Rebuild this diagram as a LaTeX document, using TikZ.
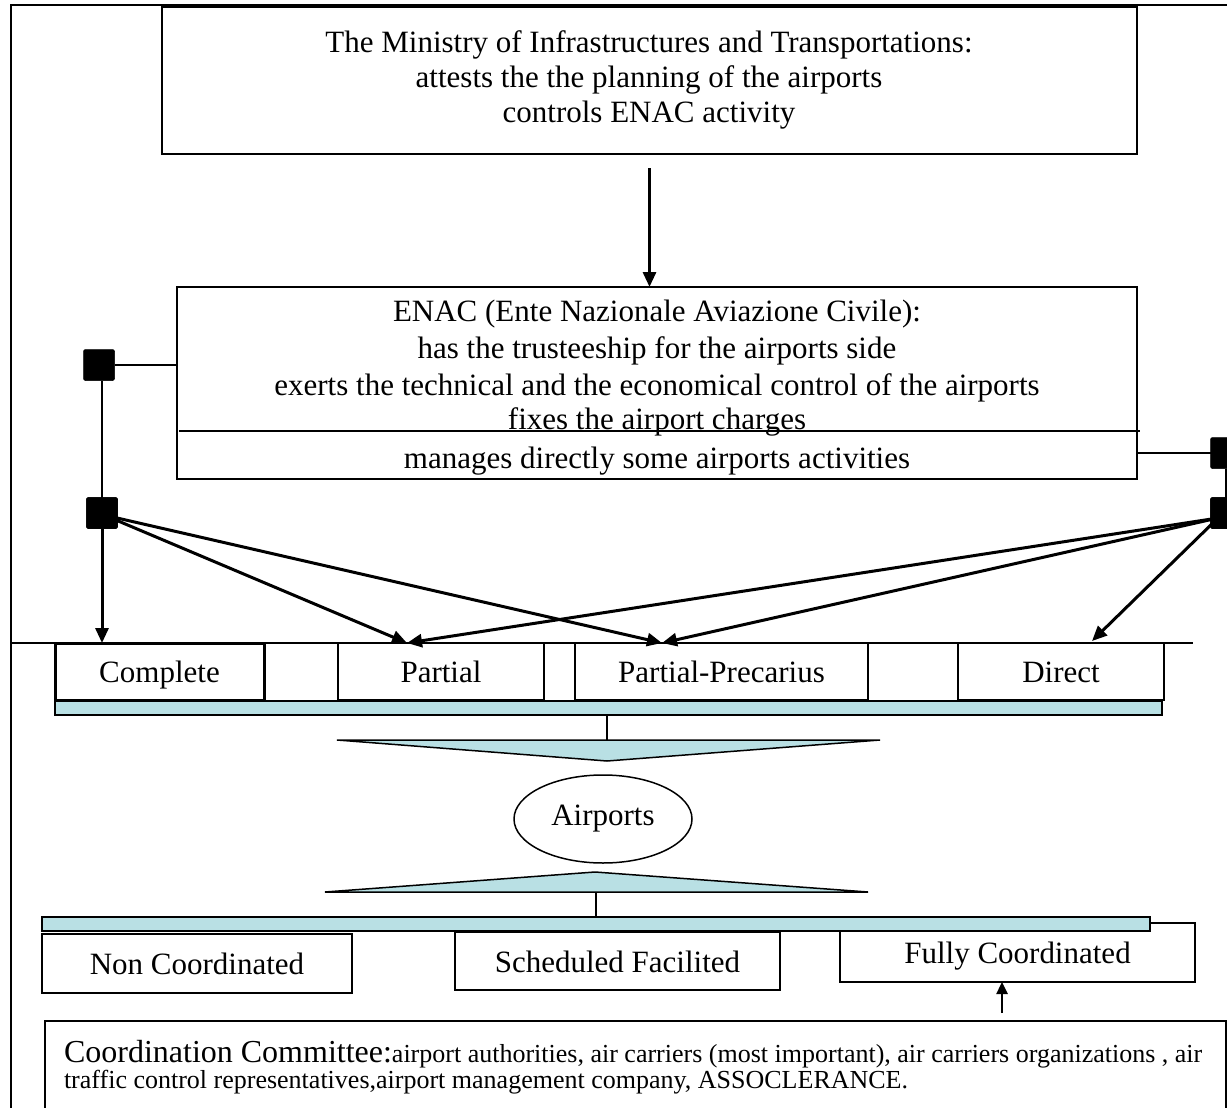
\documentclass[tikz,border=0pt]{standalone}
\usepackage{fontspec}
\setmainfont{Liberation Serif}
\usetikzlibrary{arrows.meta,shapes.geometric}
\definecolor{barfill}{RGB}{185,224,228}
\begin{document}
\begin{tikzpicture}[x=1pt,y=-1pt,
  every node/.style={inner sep=0pt,outer sep=0pt},
  box/.style={draw,line width=1.8pt,rectangle},
  txt/.style={font=\fontsize{31}{36}\selectfont,anchor=base},
  sq/.style={fill=black,draw=black,line width=0.5pt,minimum size=31pt,rounded corners=2pt},
  arr/.style={line width=3pt,-{Triangle[length=15pt,width=13pt]}},
  conn/.style={line width=1.8pt},
  bar/.style={draw,fill=barfill,line width=1.5pt},
  framel/.style={line width=2pt}
]
\useasboundingbox (0,0) rectangle (1227,1108);
\clip (0,0) rectangle (1227,1108);
% frame
\coordinate (fTL) at (11,5);
\coordinate (fTR) at (1230,5);
\coordinate (fBL) at (11,1110);
\coordinate (hL) at (11,643);
\coordinate (hR) at (1193,643);
\draw[framel] (fTR) -- (fTL) -- (fBL);
\draw[framel] (hL) -- (hR);

% top box
\node[box,minimum width=975pt,minimum height=147pt] (min) at (649.5,80.5) {};
\node[txt] (m1) at (649,53) {The Ministry of Infrastructures and Transportations:};
\node[txt] (m2) at (649,88) {attests the the planning of the airports};
\node[txt] (m3) at (649,122) {controls ENAC activity};

% ENAC box
\node[box,minimum width=960pt,minimum height=192pt] (enac) at (657,383) {};
\coordinate (sepL) at (179,431);
\coordinate (sepR) at (1140,431);
\node[txt] (e1) at (657,321) {ENAC (Ente Nazionale Aviazione Civile):};
\node[txt] (e2) at (657,358) {has the trusteeship for the airports side};
\node[txt] (e3) at (657,395) {exerts the technical and the economical control of the airports};
\node[txt] (e4) at (657,429) {fixes the airport charges};
\node[txt] (e5) at (657,468) {manages directly some airports activities};
\draw[conn] (sepL) -- (sepR);

\draw[arr] ([yshift=-14pt]min.south) -- (min.south |- enac.north);

% boxes row
\node[box,line width=3pt,minimum width=209pt,minimum height=57pt] (complete) at (159.5,671.5) {};
\node[box,minimum width=206pt,minimum height=57pt] (partial) at (441,671.5) {};
\node[box,minimum width=293pt,minimum height=57pt] (pp) at (721.5,671.5) {};
\node[box,minimum width=206pt,minimum height=57pt] (direct) at (1061,671.5) {};
\node[txt] (tcomplete) at (159.5,682) {Complete};
\node[txt] (tpartial) at (441,682) {Partial};
\node[txt] (tpp) at (721.5,682) {Partial-Precarius};
\node[txt] (tdirect) at (1061,682) {Direct};

% arrows
\coordinate (pIn) at (407,643);
\coordinate (ppIn) at (662,643);
\coordinate (dIn) at (1092,641);
\coordinate (lStart) at (104,515);
\coordinate (rStart) at (1218,518);

% squares
\node[sq] (sqL1) at (99,365) {};
\node[sq] (sqL2) at (102,513) {};
\node[sq] (sqR1) at (1226,453) {};
\node[sq] (sqR2) at (1226,513) {};
\draw[conn] (sqL1.east) -- (sqL1.east -| enac.west);
\draw[conn] (sqL1.south -| sqL2.north) -- (sqL2.north);
\draw[conn] (enac.east |- sqR1.west) -- (sqR1.west);
\draw[conn] (sqR1.south) -- (sqR2.north);

\draw[arr] (sqL2.south) -- (sqL2.south |- complete.north);
\draw[arr] (lStart) -- (pIn);
\draw[arr] (lStart) -- (ppIn);
\draw[arr] (rStart) -- (pIn);
\draw[arr] (rStart) -- (ppIn);
\draw[arr] (rStart) -- (dIn);
\node[sq] at (sqL2) {};
\node[sq] at (sqR2) {};

% bar 1 and triangle
\node[bar,minimum width=1107pt,minimum height=14pt] (bar1) at (608.5,708) {};
\coordinate (t1top) at (607,740);
\draw[conn,line width=1.5pt] (bar1.south -| t1top) -- (t1top);
\draw[bar] (337,740) -- (880,740) -- (607,761) -- cycle;

% airports
\node[draw,ellipse,line width=1.5pt,minimum width=178pt,minimum height=88pt,font=\fontsize{31}{36}\selectfont] (airports) at (603,819) {Airports};

% triangle up and bar 2
\draw[bar] (325,892) -- (868,892) -- (595,872) -- cycle;
\coordinate (t2base) at (596,892);

% lower boxes
\node[box,minimum width=355pt,minimum height=59pt] (fully) at (1017.5,952.5) {};
\node[bar,minimum width=1108pt,minimum height=14pt] (bar2) at (596,924) {};
\draw[conn,line width=1.5pt] (t2base) -- (t2base |- bar2.north);
\node[box,minimum width=310pt,minimum height=59pt] (noncoord) at (197,963.5) {};
\node[box,minimum width=325pt,minimum height=58pt] (sched) at (617.5,961) {};
\node[txt] (tnon) at (197,974) {Non Coordinated};
\node[txt] (tsched) at (617.5,972) {Scheduled Facilited};
\node[txt] (tfully) at (1017.5,963) {Fully Coordinated};

% coordination committee
\node[box,minimum width=1181pt,minimum height=130pt] (coord) at (635.5,1086) {};
\node[anchor=base west] (c1) at (64,1062) {\fontsize{32}{36}\selectfont Coordination Committee:\fontsize{26}{30}\selectfont airport authorities, air carriers (most important), air carriers organizations , air};
\node[anchor=base west,font=\fontsize{26}{30}\selectfont] (c2) at (64,1088) {traffic control representatives,airport management company, ASSOCLERANCE.};
\coordinate (fa) at (1002,1000);
\draw[line width=2.5pt,-{Triangle[length=12pt,width=11pt]}] ([yshift=8pt]fa |- coord.north) -- (fa |- fully.south);
\end{tikzpicture}
\end{document}
